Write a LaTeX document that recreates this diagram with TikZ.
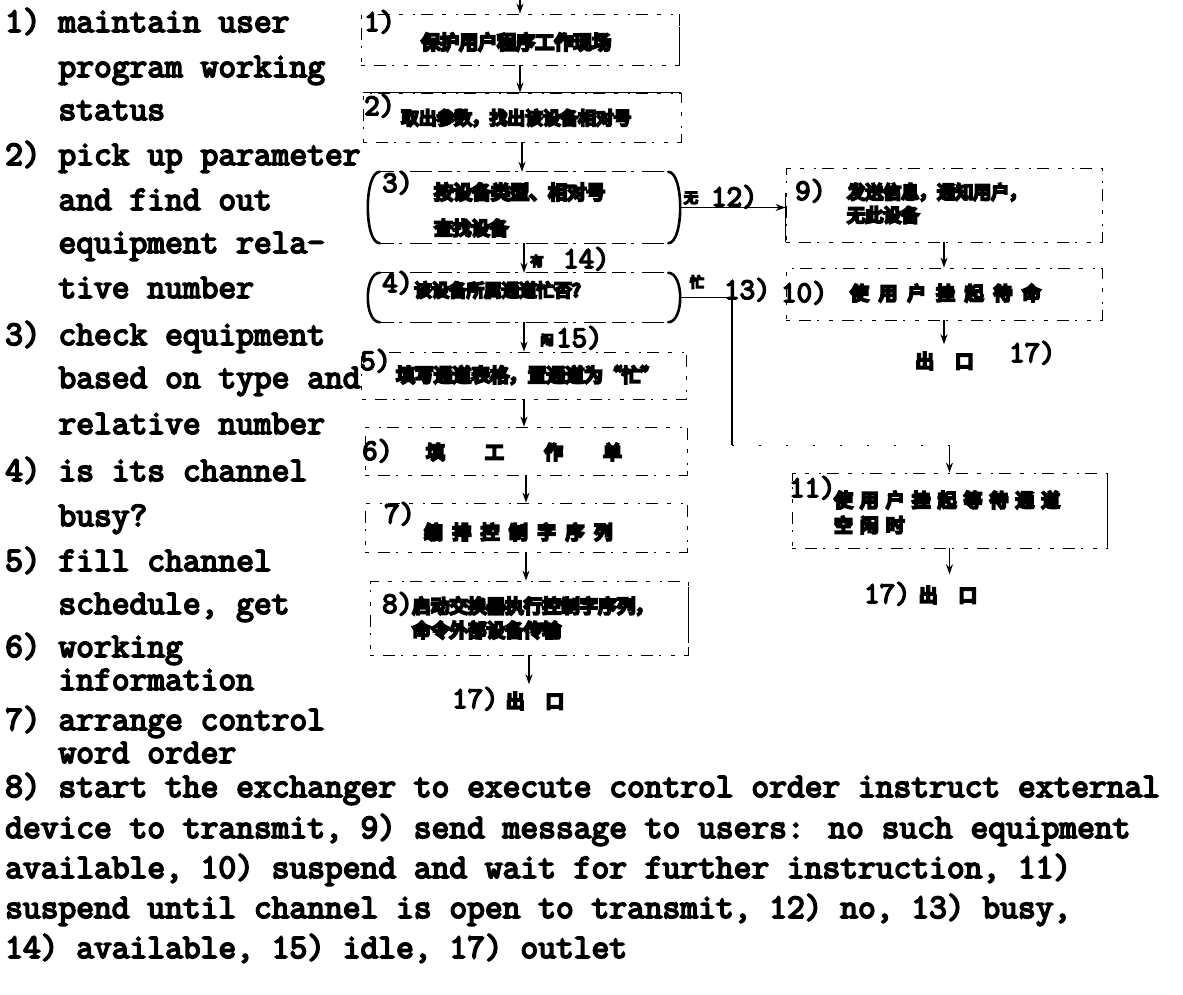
\documentclass[tikz,border=0pt]{standalone}
\usepackage{fontspec}
\usetikzlibrary{arrows.meta}
\newfontfamily\typew{Latin Modern Mono}[FakeBold=5]
\newfontfamily\cjk{Noto Sans CJK SC}[FakeBold=14]
\newcommand{\ind}{\hphantom{1) }}

\begin{document}
\begin{tikzpicture}[x=1pt, y=-1pt,
	txt/.style={anchor=base west, inner sep=0pt, text height=21pt, text depth=6pt, font=\typew\fontsize{34.5}{36}\selectfont},
	num/.style={txt, font=\typew\fontsize{30}{32}\selectfont},
	zh/.style={anchor=west, inner sep=0pt, font=\cjk\fontsize{#1}{#1}\selectfont}, zh/.default=18.5,
	blk/.style={draw, line width=0.8pt, dash pattern=on 4pt off 9pt on 12pt off 6pt on 2pt off 10pt, inner sep=0pt},
	rnd/.style={inner sep=0pt},
	scan/.style={line width=0.9pt, dash pattern=on 14pt off 5pt on 3pt off 8pt on 22pt off 6pt},
	ghost/.style={line width=0.7pt, dash pattern=on 2pt off 25pt},
	edge/.style={line width=1.5pt},
	paren/.style={line width=2.6pt, line cap=round},
	arr/.style={edge, -{Stealth[length=10pt, width=7pt]}}]
	\fill[white] (0,0) rectangle (1183,995);
	\useasboundingbox (0,0) rectangle (1183,995);
	% left column
	\foreach \yy/\words [count=\i] in {32/{1) maintain user}, 77/{\ind program working}, 120/{\ind status},
		165/{2) pick up parameter}, 210/{\ind and find out}, 253/{\ind equipment rela-}, 298/{\ind tive number},
		345/{3) check equipment}, 388/{\ind based on type and}, 434/{\ind relative number},
		481/{4) is its channel}, 526/{\ind busy?}, 571/{5) fill channel}, 614/{\ind schedule, get},
		657/{6) working}, 690/{\ind information}, 730/{7) arrange control}, 763/{\ind word order}}
		\node[txt] (l\i) at (5,\yy) {\words};
	% legend below
	\foreach \yy/\words [count=\i] in {797/{8) start the exchanger to execute control order instruct external},
		838/{device to transmit, 9) send message to users: no such equipment},
		878/{available, 10) suspend and wait for further instruction, 11)},
		918/{suspend until channel is open to transmit, 12) no, 13) busy,},
		958/{14) available, 15) idle, 17) outlet}}
		\node[txt] (g\i) at (5,\yy) {\words};
	% main column
	\node[blk, minimum width=318pt, minimum height=51pt] (b1) at (520,39.5) {};
	\node[blk, minimum width=318pt, minimum height=49pt] (b2) at (522,117.5) {};
	\node[rnd, minimum width=312pt, minimum height=71pt] (b3) at (524,207.5) {};
	\node[rnd, minimum width=312pt, minimum height=49pt] (b4) at (524,297.5) {};
	\node[blk, minimum width=325pt, minimum height=47pt] (b5) at (524,375.5) {};
	\node[blk, minimum width=322pt, minimum height=48pt] (b6) at (526,451) {};
	\node[blk, minimum width=322pt, minimum height=49pt] (b7) at (526,527.5) {};
	\node[blk, minimum width=318pt, minimum height=74pt] (b8) at (529,618) {};
	% right column
	\node[blk, minimum width=316pt, minimum height=74pt] (b9) at (944,205) {};
	\node[blk, minimum width=316pt, minimum height=52pt] (b10) at (944,294) {};
	\node[blk, minimum width=315pt, minimum height=75pt] (b11) at (949.5,510.5) {};
	% solid pieces of the frames
	\draw[edge] ([yshift=-13pt]b1.north east) -- ([yshift=2pt]b1.south east);
	\draw[edge, line width=1.2pt] (b2.north west) -- (b2.north east);
	\draw[edge] ([yshift=-6pt]b8.north east) -- ([yshift=12pt]b8.south east);
	\draw[edge] ([yshift=-25pt]b9.north west) -- (b9.south west);
	\draw[edge] (b11.north east) -- ([yshift=5pt]b11.south east);
	\foreach \b in {b3,b4} {
		\draw[scan] ([xshift=12pt]\b.north west) -- ([xshift=-12pt]\b.north east);
		\draw[scan] ([xshift=12pt]\b.south west) -- ([xshift=-12pt]\b.south east);
		\draw[paren] ([xshift=12pt]\b.north west) .. controls ([xshift=-4pt]\b.north west) and ([xshift=-4pt]\b.south west) .. ([xshift=12pt]\b.south west);
		\draw[paren] ([xshift=-12pt]\b.north east) .. controls ([xshift=4pt]\b.north east) and ([xshift=4pt]\b.south east) .. ([xshift=-12pt]\b.south east);
	}
	% texts in the boxes
	\node[num] (n1) at (364,31) {1)};
	\node[zh=19] (z1) at (421,42) {保护用户程序工作现场};
	\node[num] (n2) at (364,115) {2)};
	\node[zh=17.7] (z2) at (401,118) {取出参数，找出该设备相对号};
	\node[num] (n3) at (382,192) {3)};
	\node[zh=19] (z3a) at (434,192) {按设备类型、相对号};
	\node[zh] (z3b) at (434,228) {查找设备};
	\node[num] (n4) at (382,292) {4)};
	\node[zh=17.5] (z4) at (414,290) {该设备所属通道忙否？};
	\node[num] (n5) at (360,370) {5)};
	\node[zh=18.8] (z5) at (396,375) {填写通道表格，置通道为“忙”};
	\node[num] (n6) at (362,460) {6)};
	\node[zh] (z6) at (426,452) {\addfontfeature{LetterSpace=219}填工作单};
	\node[num] (n7) at (384,523) {7)};
	\node[zh] (z7) at (424,532) {\addfontfeature{LetterSpace=53}编排控制字序列};
	\node[num] (n8) at (382,613) {8)};
	\node[zh=18.6] (z8a) at (412,606) {启动交换器执行控制字序列，};
	\node[zh=18.6] (z8b) at (412,630) {命令外部设备传输};
	\node[zh, anchor=center] (o1) at (535,701) {出\hspace{21pt}口};
	\node[num] (o1n) at (452,708) {17)};
	\node[num] (n9) at (795,200) {9)};
	\node[zh=18] (z9a) at (847,192) {发送信息，通知用户，};
	\node[zh=18] (z9b) at (847,215) {无此设备};
	\node[num] (n10) at (781,302) {10)};
	\node[zh] (z10) at (850,293) {\addfontfeature{LetterSpace=55}使用户挂起待命};
	\node[zh, anchor=center] (o2) at (944.5,361) {出\hspace{21pt}口};
	\node[num] (o2n) at (1009,362) {17)};
	\node[num] (n11) at (789,497) {11)};
	\node[zh] (z11a) at (834,500) {\addfontfeature{LetterSpace=40}使用户挂起等待通道};
	\node[zh] (z11b) at (834,525) {\addfontfeature{LetterSpace=40}空闲时};
	\node[zh, anchor=center] (o3) at (948,595) {出\hspace{21pt}口};
	\node[num] (o3n) at (864,603) {17)};
	% connectors
	\coordinate (entry) at (520,0);
	\coordinate (k13) at (732,445);
	\draw[arr] (entry) -- (b1.north);
	\draw[arr] (b1.south) -- (b1.south |- b2.north);
	\draw[arr] (b2.south) -- (b2.south |- b3.north);
	\draw[arr] (b3.south) -- (b3.south |- b4.north);
	\draw[arr] (b4.south) -- (b4.south |- b5.north);
	\draw[arr] (b5.south) -- (b5.south |- b6.north);
	\draw[arr] (b6.south) -- (b6.south |- b7.north);
	\draw[arr] (b7.south) -- (b7.south |- b8.north);
	\draw[arr, shorten >=8pt] (b8.south) -- (b8.south |- o1.north);
	\draw[arr] (b3.east) -- (b3.east -| b9.west);
	\draw[arr] (b9.south) -- (b9.south |- b10.north);
	\draw[arr, shorten >=8pt] (b10.south) -- (b10.south |- o2.north);
	\draw[edge] (b4.east) -| (k13);
	\draw[ghost] (k13) -- (k13 -| b11.north);
	\draw[arr] (k13 -| b11.north) -- (b11.north);
	\draw[arr, shorten >=12pt] (b11.south) -- (b11.south |- o3.north);
	% branch labels
	\node[zh=14, anchor=center] (c12) at (691,198) {无};
	\node[num] (n12) at (711,206) {12)};
	\node[zh=13, anchor=center] (c14) at (537,261) {有};
	\node[num] (n14) at (563,268) {14)};
	\node[zh=13, anchor=center] (c15) at (547,340) {闲};
	\node[num] (n15) at (556,347) {15)};
	\node[zh=14, anchor=center] (c13) at (697,282) {忙};
	\node[num] (n13) at (724,299) {13)};
\end{tikzpicture}
\end{document}
